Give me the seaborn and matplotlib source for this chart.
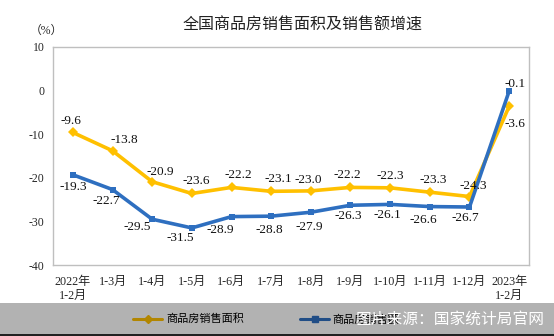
import matplotlib
matplotlib.use("Agg")
import matplotlib.pyplot as plt
import seaborn as sns
import pandas as pd
import numpy as np
from matplotlib.patches import Rectangle
from matplotlib.lines import Line2D

categories = ["2022年\n1-2月", "1-3月", "1-4月", "1-5月", "1-6月", "1-7月", "1-8月",
              "1-9月", "1-10月", "1-11月", "1-12月", "2023年\n1-2月"]
area_growth = [-9.6, -13.8, -20.9, -23.6, -22.2, -23.1, -23.0, -22.2, -22.3, -23.3, -24.3, -3.6]
sales_growth = [-19.3, -22.7, -29.5, -31.5, -28.9, -28.8, -27.9, -26.3, -26.1, -26.6, -26.7, -0.1]
series_names = ["商品房销售面积", "商品房销售额"]
y_ticks = [10, 0, -10, -20, -30, -40]

# label offsets (pixels)
area_off = [(-2, 11), (12, 11), (8, 10), (4, 12), (7, 12), (7, 12), (-3, 11), (-3, 12),
            (0, 12), (3, 12), (4, 11), (6, -18)]
sales_off = [(0, -12), (-6, -11), (-15, -8), (-12, -10), (-11, -13), (-2, -14), (-2, -15),
             (-2, -11), (-3, -11), (-7, -13), (-4, -11), (6, 7)]

sns.set_style("white")
plt.rcParams['font.family'] = ['Liberation Serif', 'Noto Sans CJK SC']

YEL = "#FFC000"
BLU = "#2E6FC0"

fig = plt.figure(figsize=(5.54, 3.36), dpi=100)
ax = fig.add_axes([53/554, 1-265/336, (529-53)/554, (265-47)/336])

pos = np.arange(len(categories))
df = pd.DataFrame({"pos": np.concatenate([pos, pos]),
                   "val": area_growth + sales_growth,
                   "series": [series_names[0]]*len(pos) + [series_names[1]]*len(pos)})

sns.lineplot(data=df, x="pos", y="val", hue="series", style="series",
             palette=[YEL, BLU], markers=["D", "s"], dashes=False,
             linewidth=2.6, markersize=5, markeredgewidth=0, legend=False, ax=ax)

for i, v in enumerate(area_growth):
    ax.annotate(f"{v:.1f}", (pos[i], v), xytext=area_off[i], textcoords="offset pixels",
                ha="center", va="center", fontsize=9.5, family="Liberation Serif", color="#111")
for i, v in enumerate(sales_growth):
    ax.annotate(f"{v:.1f}", (pos[i], v), xytext=sales_off[i], textcoords="offset pixels",
                ha="center", va="center", fontsize=9.5, family="Liberation Serif", color="#111")

ax.set_xlim(-0.5, len(categories) - 0.5)
ax.set_ylim(-40, 10)
ax.set_yticks(y_ticks)
ax.set_yticklabels([str(t) for t in y_ticks], fontsize=8.5, family="Liberation Serif")
ax.set_xticks(pos)
ax.set_xticklabels(categories, fontsize=8.7, linespacing=1.25)
ax.set_xticks(np.arange(len(categories) + 1) - 0.5, minor=True)
ax.tick_params(axis="x", which="major", length=0, pad=8)
ax.tick_params(axis="x", which="minor", direction="in", length=5, color="#bfbfbf", width=0.8)
ax.tick_params(axis="y", direction="in", length=5, color="#bfbfbf", width=0.8, pad=6)
ax.set_xlabel("")
ax.set_ylabel("")
for s in ax.spines.values():
    s.set_color("#bfbfbf")
    s.set_linewidth(1.0)

fig.text(30/554, 1-31/336, "（%）", fontsize=8.5, ha="left", va="center",
         family=["Liberation Serif", "Noto Sans CJK SC"])
fig.text(303/554, 1-25/336, "全国商品房销售面积及销售额增速", fontsize=11.5, ha="center",
         va="center", family="Noto Sans CJK SC", color="#222")

# legend
ly = 1 - 319/336
fig.add_artist(Line2D([133/554, 162/554], [ly, ly], color=YEL, lw=2.2,
                      transform=fig.transFigure))
fig.add_artist(Line2D([147.5/554], [ly], color=YEL, marker="D", markersize=4, lw=0,
                      transform=fig.transFigure))
fig.text(166/554, ly, series_names[0], fontsize=8, ha="left", va="center",
         family="Noto Sans CJK SC", color="#000")
fig.add_artist(Line2D([300/554, 329/554], [ly, ly], color=BLU, lw=2.2, transform=fig.transFigure))
fig.add_artist(Line2D([314.5/554], [ly], color=BLU, marker="s", markersize=4, lw=0,
                      transform=fig.transFigure))
fig.text(332/554, ly, series_names[1], fontsize=8, ha="left", va="center",
         family="Noto Sans CJK SC", color="#000")

# overlay band
fig.add_artist(Rectangle((0, 0), 1, 1-303/336, transform=fig.transFigure,
                         facecolor="black", alpha=0.3, edgecolor="none", zorder=10))
fig.add_artist(Rectangle((0, 0), 1, 2/336, transform=fig.transFigure,
                         facecolor="#222", edgecolor="none", zorder=11))
fig.text(450/554, ly, "图片来源：国家统计局官网", fontsize=11.3, ha="center", va="center",
         family="Noto Sans CJK SC", color="white", zorder=12)

fig.savefig("out.png", dpi=100)
